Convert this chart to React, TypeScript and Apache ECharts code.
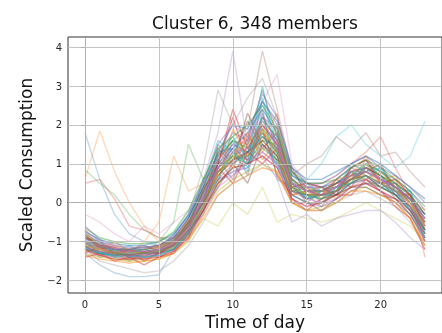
import React, { useEffect, useRef } from "react";
import * as echarts from "echarts";

const hours = [0, 1, 2, 3, 4, 5, 6, 7, 8, 9, 10, 11, 12, 13, 14, 15, 16, 17, 18, 19, 20, 21, 22, 23];
const xTicks = [0, 5, 10, 15, 20];
const yTicks = [-2, -1, 0, 1, 2, 3, 4];
const palette = ["#1f77b4", "#ff7f0e", "#2ca02c", "#d62728", "#9467bd", "#8c564b", "#e377c2", "#7f7f7f", "#bcbd22", "#17becf"];

const m01 = [-1.0, -1.15, -1.25, -1.3, -1.3, -1.25, -1.1, -0.7, 0.0, 0.8, 1.1, 1.2, 1.8, 1.3, 0.4, 0.2, 0.2, 0.3, 0.6, 0.7, 0.5, 0.3, 0.0, -0.6];
const m02 = [-0.9, -1.1, -1.2, -1.25, -1.2, -1.15, -0.95, -0.5, 0.2, 1.0, 1.5, 1.3, 2.2, 1.6, 0.6, 0.3, 0.3, 0.5, 0.8, 0.9, 0.7, 0.5, 0.2, -0.3];
const m03 = [-1.2, -1.3, -1.4, -1.45, -1.4, -1.35, -1.2, -0.85, -0.2, 0.5, 0.9, 1.0, 1.4, 1.1, 0.2, 0.0, 0.0, 0.2, 0.4, 0.5, 0.4, 0.2, -0.2, -0.8];
const m04 = [-0.7, -1.0, -1.15, -1.2, -1.25, -1.2, -1.0, -0.6, 0.1, 1.2, 1.8, 1.6, 2.6, 2.0, 0.8, 0.4, 0.4, 0.6, 0.9, 1.1, 0.8, 0.6, 0.3, -0.2];
const m05 = [-1.1, -1.25, -1.35, -1.35, -1.35, -1.3, -1.15, -0.8, -0.1, 0.6, 1.0, 1.4, 1.2, 0.9, 0.1, -0.1, 0.1, 0.3, 0.5, 0.6, 0.3, 0.1, -0.1, -0.9];
const m06 = [-1.3, -1.4, -1.45, -1.5, -1.5, -1.45, -1.3, -1.0, -0.3, 0.3, 0.6, 0.8, 1.0, 0.8, 0.0, -0.2, -0.1, 0.0, 0.3, 0.4, 0.2, 0.0, -0.4, -1.1];
const m07 = [-0.8, -1.05, -1.2, -1.2, -1.15, -1.1, -0.9, -0.4, 0.4, 1.3, 1.4, 1.8, 2.4, 1.8, 0.7, 0.5, 0.4, 0.5, 0.7, 0.8, 0.6, 0.4, 0.1, -0.4];
const m08 = [-1.05, -1.2, -1.3, -1.35, -1.3, -1.2, -1.0, -0.6, 0.0, 0.9, 1.2, 1.0, 1.6, 1.5, 0.5, 0.2, 0.1, 0.3, 0.6, 0.9, 0.7, 0.4, 0.0, -0.7];
const m09 = [-0.6, -0.95, -1.1, -1.15, -1.15, -1.1, -0.85, -0.3, 0.5, 1.5, 2.0, 1.7, 2.8, 2.2, 0.9, 0.5, 0.5, 0.7, 1.0, 1.2, 0.9, 0.7, 0.4, 0.0];
const m10 = [-1.25, -1.35, -1.4, -1.45, -1.4, -1.35, -1.25, -0.9, -0.3, 0.4, 0.7, 1.1, 1.3, 1.0, 0.3, 0.1, 0.0, 0.1, 0.4, 0.6, 0.5, 0.3, -0.1, -1.0];
const m11 = [-1.0, -1.2, -1.3, -1.3, -1.25, -1.2, -1.05, -0.75, -0.1, 0.7, 1.3, 1.5, 2.0, 1.2, 0.3, 0.2, 0.3, 0.4, 0.5, 0.8, 0.6, 0.3, 0.1, -0.5];
const m12 = [-1.15, -1.3, -1.35, -1.4, -1.35, -1.25, -1.1, -0.7, 0.1, 1.0, 1.0, 1.3, 1.7, 1.4, 0.4, 0.1, 0.2, 0.2, 0.5, 0.7, 0.5, 0.2, -0.2, -0.7];
const m13 = [-0.85, -1.1, -1.25, -1.3, -1.3, -1.2, -1.0, -0.55, 0.3, 1.1, 1.6, 1.4, 2.1, 1.7, 0.6, 0.3, 0.3, 0.4, 0.7, 1.0, 0.8, 0.5, 0.2, -0.3];
const m14 = [-1.2, -1.25, -1.3, -1.35, -1.4, -1.3, -1.2, -0.8, -0.2, 0.6, 0.8, 0.9, 1.5, 1.0, 0.2, 0.0, -0.1, 0.1, 0.3, 0.5, 0.3, 0.0, -0.3, -0.9];
const m15 = [-0.95, -1.1, -1.2, -1.25, -1.25, -1.2, -1.0, -0.6, 0.2, 1.1, 1.5, 1.6, 2.3, 1.5, 0.5, 0.3, 0.2, 0.4, 0.8, 0.9, 0.6, 0.4, 0.1, -0.4];
const m16 = [-1.1, -1.2, -1.3, -1.3, -1.3, -1.25, -1.15, -0.65, 0.0, 0.8, 1.2, 1.2, 1.9, 1.3, 0.4, 0.2, 0.2, 0.3, 0.6, 0.7, 0.5, 0.3, 0.0, -0.6];
const m17 = [-0.75, -0.95, -1.05, -1.1, -1.1, -1.0, -0.8, -0.35, 0.4, 1.3, 2.0, 1.9, 2.6, 2.1, 0.9, 0.6, 0.6, 0.8, 1.0, 1.2, 1.0, 0.7, 0.4, 0.1];
const m18 = [-1.35, -1.45, -1.5, -1.55, -1.5, -1.45, -1.3, -0.95, -0.4, 0.2, 0.5, 0.7, 0.9, 0.8, 0.0, -0.2, -0.2, 0.0, 0.3, 0.3, 0.2, 0.0, -0.4, -1.1];
const m19 = [-0.65, -0.9, -1.0, -1.05, -1.05, -1.0, -0.75, -0.2, 0.6, 1.4, 1.7, 2.0, 2.5, 1.9, 0.8, 0.5, 0.5, 0.6, 0.9, 1.1, 0.9, 0.6, 0.3, -0.1];
const m20 = [-1.2, -1.35, -1.45, -1.45, -1.45, -1.4, -1.25, -0.9, -0.2, 0.5, 0.9, 1.0, 1.2, 0.9, 0.1, -0.1, 0.0, 0.2, 0.4, 0.5, 0.3, 0.1, -0.2, -0.8];
const m21 = [-1.05, -1.15, -1.2, -1.25, -1.25, -1.2, -1.1, -0.7, 0.1, 0.9, 1.4, 1.1, 2.0, 1.6, 0.5, 0.3, 0.2, 0.4, 0.6, 0.8, 0.6, 0.4, 0.1, -0.5];
const m22 = [-0.9, -1.15, -1.3, -1.35, -1.3, -1.3, -1.05, -0.6, 0.0, 0.7, 1.1, 1.3, 1.6, 1.2, 0.3, 0.2, 0.2, 0.3, 0.6, 0.7, 0.4, 0.2, -0.1, -0.7];
const m23 = [-1.0, -1.2, -1.25, -1.3, -1.35, -1.2, -1.05, -0.65, 0.1, 0.9, 1.3, 1.4, 2.1, 1.4, 0.5, 0.3, 0.3, 0.4, 0.7, 0.8, 0.6, 0.3, 0.0, -0.6];
const m24 = [-1.15, -1.25, -1.35, -1.35, -1.3, -1.25, -1.1, -0.75, -0.1, 0.8, 1.1, 1.2, 1.7, 1.3, 0.4, 0.1, 0.2, 0.3, 0.5, 0.7, 0.5, 0.3, -0.1, -0.7];
const m43 = [-1.1, -1.3, -1.2, -1.4, -1.3, -1.2, -1.2, -0.6, 0.3, 0.6, 1.6, 0.9, 2.3, 1.0, 0.6, 0.1, 0.4, 0.2, 0.8, 0.6, 0.9, 0.3, 0.3, -0.8];
const m44 = [-0.8, -1.2, -1.1, -1.3, -1.4, -1.1, -0.9, -0.8, 0.2, 1.3, 0.9, 1.7, 1.3, 2.0, 0.3, 0.4, 0.1, 0.5, 0.5, 1.0, 0.5, 0.6, -0.1, -0.5];
const m45 = [-1.3, -1.1, -1.4, -1.2, -1.5, -1.3, -1.0, -0.5, 0.0, 1.0, 2.2, 1.0, 1.9, 0.7, 0.2, 0.3, 0.2, 0.6, 0.4, 0.9, 0.7, 0.2, 0.2, -1.0];
const m46 = [-0.9, -1.0, -1.3, -1.2, -1.2, -1.3, -1.1, -0.4, 0.4, 0.8, 1.2, 2.1, 1.4, 1.8, 0.5, 0.0, 0.3, 0.3, 0.9, 0.7, 0.4, 0.5, 0.0, -0.3];
const m47 = [-1.2, -1.4, -1.3, -1.5, -1.3, -1.4, -1.2, -0.7, -0.3, 1.1, 0.6, 1.5, 2.4, 0.6, 0.4, 0.2, -0.1, 0.4, 0.6, 1.1, 0.6, 0.1, -0.3, -0.9];
const m48 = [-1.0, -1.1, -1.25, -1.1, -1.3, -1.2, -0.8, -0.3, 0.5, 1.6, 1.3, 0.8, 2.7, 1.2, 0.7, 0.5, 0.2, 0.3, 1.0, 0.8, 0.9, 0.4, 0.3, -0.6];
const m49 = [-0.7, -1.2, -1.0, -1.25, -1.2, -1.1, -1.0, -0.9, 0.1, 0.5, 1.9, 1.2, 1.6, 2.3, 0.2, 0.3, 0.4, 0.1, 0.7, 1.2, 0.6, 0.7, 0.1, -0.2];
const m50 = [-1.4, -1.3, -1.5, -1.4, -1.6, -1.4, -1.3, -0.8, -0.1, 0.9, 0.5, 1.3, 1.0, 1.4, 0.1, -0.2, 0.1, 0.2, 0.2, 0.6, 0.3, -0.1, -0.4, -1.2];
const m51 = [-1.0, -1.3, -1.2, -1.2, -1.1, -1.25, -1.05, -0.5, 0.0, 1.4, 1.0, 2.3, 1.5, 1.1, 0.9, 0.2, 0.3, 0.5, 0.6, 0.8, 1.0, 0.3, 0.2, -0.7];
const m52 = [-1.15, -1.05, -1.35, -1.3, -1.4, -1.2, -0.9, -0.6, 0.6, 0.9, 1.4, 0.7, 2.2, 1.9, 0.3, 0.4, 0.0, 0.3, 0.8, 0.5, 0.5, 0.5, -0.2, -0.4];
const m53 = [-0.95, -1.25, -1.4, -1.3, -1.2, -1.3, -1.15, -0.7, 0.2, 1.2, 1.7, 1.1, 3.0, 1.3, 0.5, 0.1, 0.3, 0.4, 0.5, 1.0, 0.7, 0.2, 0.1, -0.8];
const m54 = [-1.25, -1.2, -1.3, -1.45, -1.35, -1.15, -1.0, -0.45, -0.2, 0.7, 1.1, 1.8, 1.1, 1.6, 0.6, 0.3, 0.2, 0.6, 0.7, 0.6, 0.8, 0.4, 0.0, -0.5];
const m55 = [-0.85, -1.1, -1.15, -1.35, -1.25, -1.3, -1.1, -0.65, 0.3, 1.0, 2.4, 1.4, 2.0, 1.5, 0.4, 0.5, 0.4, 0.2, 0.9, 1.1, 0.5, 0.6, 0.2, -0.6];
const m56 = [-1.1, -1.35, -1.25, -1.4, -1.45, -1.3, -1.2, -0.75, -0.2, 0.4, 1.0, 0.5, 1.5, 1.2, 0.0, 0.0, -0.2, 0.1, 0.4, 0.4, 0.2, 0.1, -0.3, -1.0];
const m57 = [-1.05, -1.0, -1.2, -1.2, -1.3, -1.25, -0.95, -0.55, 0.4, 1.5, 1.1, 1.6, 2.9, 1.7, 0.8, 0.3, 0.4, 0.4, 0.6, 0.9, 0.6, 0.3, 0.1, -0.3];
const m58 = [-1.2, -1.3, -1.35, -1.3, -1.4, -1.35, -1.2, -0.8, 0.0, 0.6, 1.3, 1.0, 1.8, 0.9, 0.3, 0.2, 0.1, 0.4, 0.5, 0.7, 0.4, 0.3, -0.2, -0.9];

const m25 = [1.8, 0.6, -0.3, -0.8, -1.0, -1.1, -1.0, -0.6, 0.2, 1.0, 1.4, 1.3, 1.9, 1.5, 0.5, 0.3, 0.3, 0.4, 0.8, 0.9, 0.6, 0.4, 0.1, -0.4];
const m26 = [0.6, 1.85, 0.8, 0.0, -0.6, -1.0, -1.1, -0.8, 0.0, 0.8, 1.0, 1.2, 1.6, 1.2, 0.3, 0.2, 0.1, 0.3, 0.5, 0.6, 0.4, 0.2, -0.1, -0.7];
const m27 = [0.85, 0.5, 0.2, -0.3, -0.7, -0.9, -1.0, -0.6, 0.1, 0.8, 1.2, 1.1, 1.5, 1.1, 0.3, 0.1, 0.1, 0.2, 0.5, 0.6, 0.4, 0.2, -0.2, -0.9];
const m28 = [0.5, 0.6, 0.1, -0.6, -0.7, -0.9, -0.9, -0.5, 0.2, 0.9, 1.2, 1.4, 1.8, 1.4, 0.5, 0.3, 0.3, 0.4, 0.7, 0.8, 0.5, 0.3, 0.0, -0.5];
const m29 = [-1.0, -1.2, -1.3, -1.3, -1.2, -1.1, -0.9, -0.4, 0.6, 1.8, 3.9, 1.5, 2.5, 1.7, 0.6, 0.4, 0.3, 0.5, 0.7, 0.8, 0.6, 0.4, 0.1, -0.5];
const m30 = [-0.9, -1.1, -1.2, -1.25, -1.2, -1.15, -0.95, -0.5, 0.3, 1.2, 1.6, 1.9, 3.9, 2.4, 0.8, 0.4, 0.3, 0.5, 0.8, 0.9, 0.7, 0.4, 0.1, -0.4];
const m31 = [-1.1, -1.25, -1.3, -1.35, -1.3, -1.2, -1.05, -0.6, 0.2, 1.1, 1.5, 1.7, 2.6, 3.3, 1.0, 0.5, 0.4, 0.5, 0.8, 0.9, 0.7, 0.4, 0.1, -0.5];
const m32 = [-0.8, -1.0, -1.1, -1.2, -1.15, -1.1, -0.85, -0.3, 0.9, 2.9, 2.0, 2.7, 3.2, 2.2, 0.7, 0.4, 0.4, 0.6, 0.9, 1.0, 0.8, 0.5, 0.2, -0.3];
const m33 = [-1.2, -1.35, -1.45, -1.5, -1.45, -1.4, -1.25, -0.9, -0.4, -0.6, 0.0, -0.3, 0.4, -0.5, -0.3, -0.4, -0.5, -0.4, -0.2, 0.0, -0.2, -0.4, -0.6, -1.0];
const m34 = [-1.0, -1.15, -1.2, -1.3, -1.25, -1.2, -1.0, -0.6, 0.1, 0.9, 1.3, 1.3, 1.9, 1.3, 0.6, 0.6, 1.0, 1.7, 2.0, 1.5, 1.2, 0.9, 1.2, 2.1];
const m35 = [-1.3, -1.6, -1.8, -1.9, -1.9, -1.85, -1.2, -0.8, -0.2, 0.5, 0.8, 1.0, 1.3, 1.0, 0.2, 0.0, 0.0, 0.2, 0.5, 0.6, 0.4, 0.2, -0.1, -0.9];
const m36 = [-1.1, -1.2, -1.25, -1.3, -1.0, -0.5, 1.2, 0.3, 0.5, 1.0, 1.3, 1.1, 1.7, 1.4, 0.4, 0.2, 0.2, 0.4, 0.6, 0.8, 0.6, 0.3, 0.0, -0.6];
const m37 = [-1.0, -1.1, -1.2, -1.25, -1.3, -1.0, -0.5, 1.5, 0.6, 1.2, 1.6, 1.3, 2.0, 1.5, 0.5, 0.3, 0.3, 0.5, 0.7, 0.9, 0.7, 0.4, 0.1, -0.5];
const m38 = [-1.1, -1.2, -1.3, -1.3, -1.3, -1.2, -1.05, -0.6, 0.0, 0.8, 1.1, 1.3, 1.8, 1.3, 0.5, 0.4, 0.5, 0.7, 1.0, 1.3, 1.7, 0.9, 0.2, -1.4];
const m39 = [-1.15, -1.3, -1.35, -1.4, -1.35, -1.3, -1.15, -0.7, 0.0, 0.6, 0.7, 1.0, 1.2, 0.6, -0.5, -0.3, -0.6, -0.4, -0.3, -0.2, -0.2, -0.5, -0.9, -1.2];
const m40 = [-0.9, -1.1, -1.2, -1.25, -1.2, -1.1, -0.9, -0.4, 0.3, 1.1, 1.6, 1.5, 2.2, 1.6, 0.7, 1.0, 1.2, 1.7, 1.4, 1.8, 1.2, 1.3, 0.8, 0.4];
const m41 = [-0.3, -0.5, -0.8, -1.0, -0.6, -0.8, -0.5, -0.2, 0.5, 1.2, 1.4, 1.6, 2.0, 1.5, 0.5, 0.3, 0.3, 0.4, 0.7, 0.8, 0.6, 0.3, 0.1, -0.4];
const m42 = [-1.2, -1.5, -1.6, -1.7, -1.8, -1.75, -1.5, -1.1, -0.5, 0.2, 0.5, 0.7, 1.0, 0.7, 0.0, -0.2, -0.2, 0.0, 0.2, 0.3, 0.1, -0.1, -0.5, -1.1];

const coreMembers = [m01, m43, m02, m44, m03, m45, m04, m46, m05, m47, m06, m48, m07, m49, m08, m50, m09, m51, m10, m52, m11, m53, m12, m54, m13, m55, m14, m56, m15, m57, m16, m58, m17, m18, m19, m20, m21, m22, m23, m24];
const outlierMembers = [m25, m26, m27, m28, m29, m30, m31, m32, m33, m34, m35, m36, m37, m38, m39, m40, m41, m42];

const FONT = "DejaVu Sans";
const fmt = (v: number) => (v < 0 ? "\u2212" + Math.abs(v) : String(v));

export default function App() {
  const ref = useRef<HTMLDivElement>(null);
  useEffect(() => {
    if (!ref.current) return;
    const chart = echarts.init(ref.current, null, { renderer: "svg" });
    const members = [...outlierMembers, ...coreMembers];
    const lineSeries = members.map((vals, i) => ({
      type: "line",
      data: hours.map((h, k) => [h, vals[k]]),
      showSymbol: false,
      silent: true,
      z: 3,
      lineStyle: {
        color: palette[i % palette.length],
        width: 1.4,
        opacity: i < outlierMembers.length ? 0.28 : 0.45,
      },
    }));
    chart.setOption({
      animation: false,
      grid: { left: 68, right: 0, top: 37, bottom: 40, show: true, borderColor: "#333", borderWidth: 1, containLabel: false },
      xAxis: {
        type: "value",
        min: -1.15,
        max: 24.15,
        splitLine: { show: false },
        axisLine: { show: true, lineStyle: { color: "#333" } },
        axisTick: { show: true, length: 4, lineStyle: { color: "#333" }, customValues: xTicks },
        axisLabel: { fontFamily: FONT, fontSize: 10, color: "#262626", margin: 6, customValues: xTicks, formatter: fmt },
      },
      yAxis: {
        type: "value",
        min: -2.32,
        max: 4.26,
        splitLine: { show: false },
        axisLine: { show: true, lineStyle: { color: "#333" } },
        axisTick: { show: true, length: 4, lineStyle: { color: "#333" }, customValues: yTicks },
        axisLabel: { fontFamily: FONT, fontSize: 10, color: "#262626", margin: 6, customValues: yTicks, formatter: fmt },
      },
      series: [
        {
          type: "line",
          data: [],
          z: 1,
          markLine: {
            silent: true,
            symbol: "none",
            label: { show: false },
            lineStyle: { color: "#bdbdbd", width: 0.9, type: "solid" },
            data: [...xTicks.map((v) => ({ xAxis: v })), ...yTicks.map((v) => ({ yAxis: v }))],
          },
        },
        ...lineSeries,
      ],
      graphic: [
        { type: "text", x: 255, y: 23, style: { text: "Cluster 6, 348 members", font: `17px '${FONT}'`, fill: "#111", align: "center", verticalAlign: "middle" } },
        { type: "text", x: 26, y: 165, rotation: Math.PI / 2, style: { text: "Scaled Consumption", font: `17px '${FONT}'`, fill: "#111", align: "center", verticalAlign: "middle" } },
        { type: "text", x: 255, y: 322, style: { text: "Time of day", font: `17px '${FONT}'`, fill: "#111", align: "center", verticalAlign: "middle" } },
      ],
    });
    return () => chart.dispose();
  }, []);
  return <div ref={ref} style={{ width: 442, height: 333, position: "fixed", left: 0, top: 0 }} />;
}
